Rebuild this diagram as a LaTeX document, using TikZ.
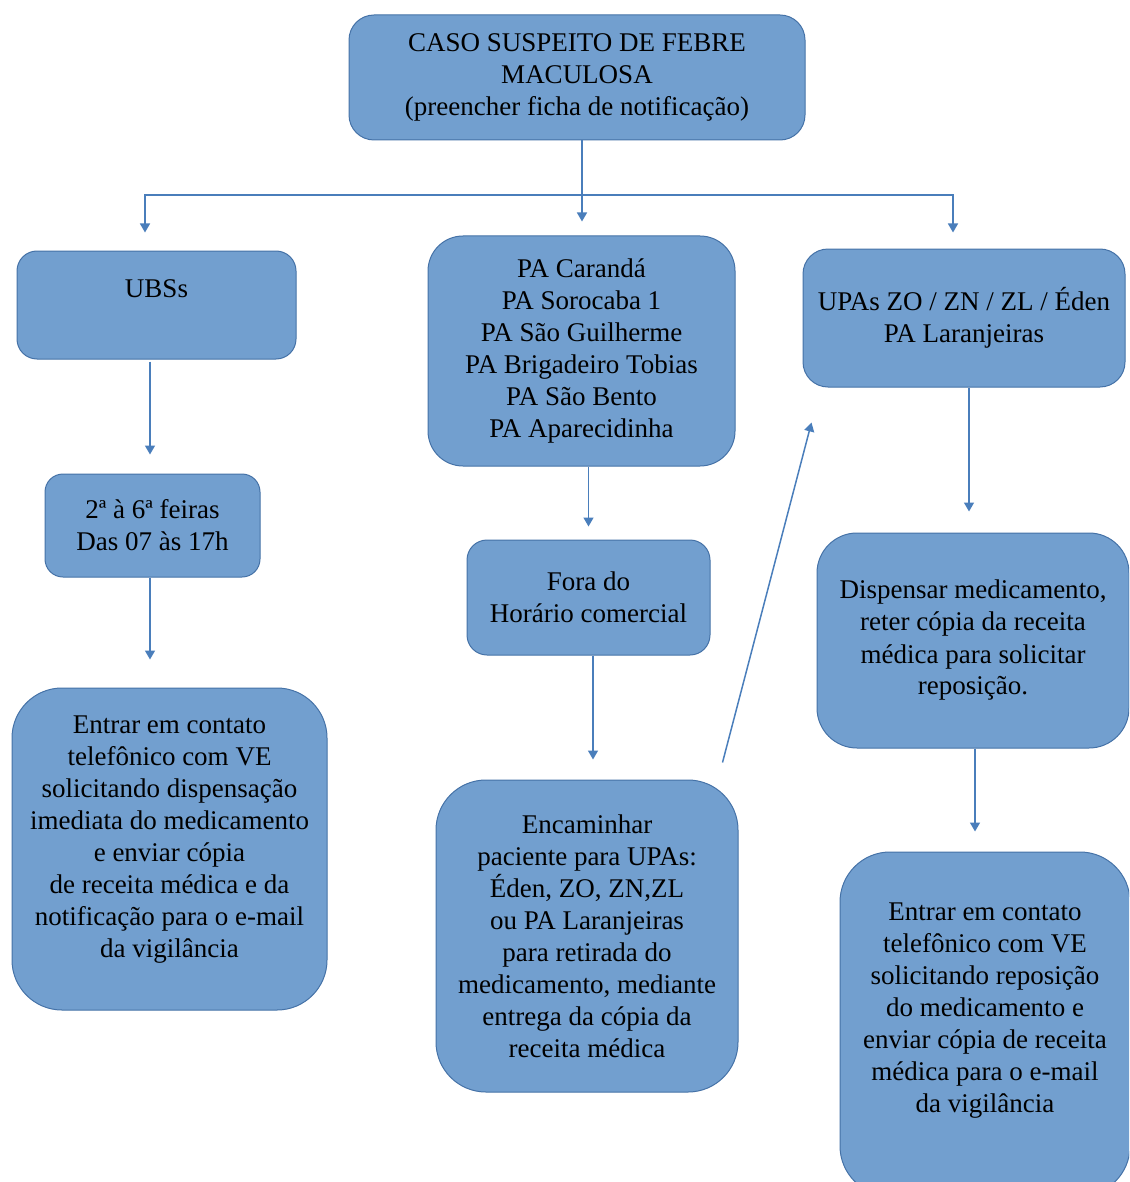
\documentclass[tikz,border=0pt]{standalone}
\usepackage{fontspec}
\setmainfont{Liberation Serif}
\usetikzlibrary{arrows.meta}
\definecolor{caixaazul}{RGB}{114,159,207}
\definecolor{bordaazul}{RGB}{69,114,167}
\definecolor{linhaazul}{RGB}{74,126,187}
\tikzset{caixa/.style={fill=caixaazul, draw=bordaazul, line width=1pt, align=center, inner sep=0pt, font=\fontsize{27}{32}\selectfont},
  seta/.style={draw=linhaazul, line width=1.5pt, -{Triangle[width=10pt,length=9pt]}}}

\begin{document}
\begin{tikzpicture}[x=1pt, y=-1pt]
			\useasboundingbox (0,0) rectangle (1129,1182);
			\clip (0,0) rectangle (1129,1182);
			\node [caixa, rounded corners=25pt, minimum width=456pt, minimum height=125pt] (caso) at (577,77.5) {CASO SUSPEITO DE FEBRE\\MACULOSA\\(preencher ficha de notificação)};
			\node [caixa, rounded corners=20pt, minimum width=279pt, minimum height=108pt] (ubs) at (156.5,305) {UBSs\\ \mbox{}};
			\node [caixa, rounded corners=35pt, minimum width=307pt, minimum height=230pt] (pa) at (581.5,351) {PA Carandá\\PA Sorocaba 1\\PA São Guilherme\\PA Brigadeiro Tobias\\PA São Bento\\PA Aparecidinha};
			\node [caixa, rounded corners=25pt, minimum width=322pt, minimum height=138pt] (upa) at (964,318) {UPAs ZO / ZN / ZL / Éden\\PA Laranjeiras};
			\node [caixa, rounded corners=18pt, minimum width=215pt, minimum height=103pt] (dias) at (152.5,525.5) {2ª à 6ª feiras\\Das 07 às 17h};
			\node [caixa, rounded corners=20pt, minimum width=243pt, minimum height=115pt] (fora) at (588.5,597.5) {Fora do\\Horário comercial};
			\node [caixa, rounded corners=40pt, minimum width=312pt, minimum height=215pt] (disp) at (973,640.5) {Dispensar medicamento,\\reter cópia da receita\\médica para solicitar\\reposição.};
			\node [caixa, rounded corners=50pt, minimum width=315pt, minimum height=322pt] (contato1) at (169.5,849) {Entrar em contato\\telefônico com VE\\solicitando dispensação\\imediata do medicamento\\e enviar cópia\\de receita médica e da\\notificação para o e-mail\\da vigilância\\[-7pt]\mbox{}};
			\node [caixa, rounded corners=50pt, minimum width=302pt, minimum height=312pt] (enc) at (587,936) {Encaminhar\\paciente para UPAs:\\Éden, ZO, ZN,ZL\\ou PA Laranjeiras\\para retirada do\\medicamento, mediante\\entrega da cópia da\\receita médica};
			\node [caixa, rounded corners=50pt, minimum width=290pt, minimum height=344pt] (contato2) at (985,1024) {Entrar em contato\\telefônico com VE\\solicitando reposição\\do medicamento e\\enviar cópia de receita\\médica para o e-mail\\da vigilância\\ \mbox{}};
			\coordinate (ramo) at (582,195);
			\draw [seta, shorten >=14pt] (caso.south -| ramo) -- (ramo |- pa.north);
			\draw [seta, shorten >=18pt] (ramo) -| ([xshift=-11.5pt]ubs.north);
			\draw [seta, shorten >=16pt] (ramo) -| ([xshift=-11pt]upa.north);
			\draw [seta, shorten >=19pt, shorten <=2pt] ([xshift=-2.5pt]dias.north |- ubs.south) -- ([xshift=-2.5pt]dias.north);
			\draw [seta, shorten >=28pt] ([xshift=-2.5pt]dias.south) -- ([xshift=-2.5pt]dias.south |- contato1.north);
			\draw [seta, shorten >=13pt] (fora.north |- pa.south) -- (fora.north);
			\draw [seta, shorten >=20pt] ([xshift=4.5pt]fora.south) -- ([xshift=4.5pt]fora.south |- enc.north);
			\draw [seta] ([xshift=-16pt, yshift=17pt]enc.north east) -- ([xshift=9pt, yshift=-35pt]upa.south west);
			\draw [seta, shorten >=21pt] ([xshift=5pt]upa.south) -- ([xshift=5pt]upa.south |- disp.north);
			\draw [seta, shorten >=20pt] ([xshift=2pt]disp.south) -- ([xshift=2pt]disp.south |- contato2.north);
		\end{tikzpicture}
\end{document}
